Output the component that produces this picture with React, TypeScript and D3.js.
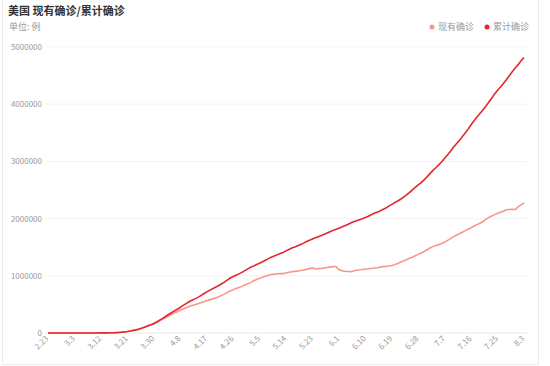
import React from "react";
import * as d3 from "d3";

// dates: 2020-02-23 .. 2020-08-03 (daily)
const startDate = "2020-02-23";
const cumulative: number[] = [
  // Feb 23-29
  15, 15, 15, 15, 16, 16, 24,
  // Mar 1-31
  30, 53, 73, 104, 174, 222, 337, 451, 519, 711, 1109, 1561, 2157, 2870, 3500, 4600, 6300, 9200, 14000, 19600, 26700, 35200, 46400, 55200, 69200, 86000, 104800, 124700, 143500, 165900, 192300,
  // Apr 1-30
  224500, 256600, 289000, 323900, 353100, 383800, 416000, 446600, 482200, 514500, 545100, 571800, 596600, 623300, 653000, 686000, 718000, 746000, 773000, 801000, 827000, 857000, 888000, 926000, 961000, 987000, 1010000, 1034000, 1060000, 1090000,
  // May 1-31
  1121000, 1148000, 1173000, 1196000, 1220000, 1246000, 1273000, 1300000, 1326000, 1346000, 1366000, 1388000, 1409000, 1436000, 1461000, 1486000, 1505000, 1527000, 1549000, 1571000, 1599000, 1622000, 1645000, 1665000, 1684000, 1704000, 1725000, 1747000, 1771000, 1794000, 1812000,
  // Jun 1-30
  1833000, 1855000, 1876000, 1898000, 1923000, 1946000, 1963000, 1981000, 1998000, 2019000, 2042000, 2067000, 2093000, 2113000, 2134000, 2160000, 2186000, 2217000, 2248000, 2280000, 2307000, 2338000, 2375000, 2414000, 2454000, 2501000, 2546000, 2588000, 2630000, 2678000,
  // Jul 1-31
  2730000, 2786000, 2843000, 2889000, 2939000, 2995000, 3056000, 3118000, 3178000, 3247000, 3307000, 3366000, 3429000, 3496000, 3564000, 3640000, 3711000, 3775000, 3836000, 3899000, 3963000, 4035000, 4105000, 4180000, 4245000, 4300000, 4362000, 4428000, 4497000, 4566000, 4634000,
  // Aug 1-3
  4692000, 4760000, 4815000,
];
const current: number[] = [
  // Feb 23-29
  10, 10, 10, 10, 11, 11, 17,
  // Mar 1-31
  23, 45, 63, 92, 158, 200, 310, 420, 480, 660, 1050, 1490, 2080, 2780, 3400, 4470, 6150, 9000, 13700, 19200, 26100, 34300, 45100, 53500, 67100, 83300, 101400, 120400, 137800, 158700, 183000,
  // Apr 1-30
  212000, 240000, 268000, 298000, 322000, 347000, 373000, 396000, 420000, 441000, 462000, 479000, 494000, 510000, 527000, 546000, 563000, 579000, 596000, 614000, 631000, 655000, 680000, 708000, 736000, 758000, 776000, 795000, 815000, 838000,
  // May 1-31
  862000, 885000, 912000, 935000, 955000, 975000, 992000, 1008000, 1022000, 1030000, 1035000, 1040000, 1038000, 1050000, 1062000, 1072000, 1078000, 1085000, 1093000, 1100000, 1112000, 1125000, 1138000, 1120000, 1125000, 1130000, 1137000, 1145000, 1152000, 1160000, 1163000,
  // Jun 1-30
  1110000, 1090000, 1080000, 1075000, 1070000, 1085000, 1098000, 1105000, 1110000, 1118000, 1122000, 1128000, 1135000, 1140000, 1150000, 1160000, 1165000, 1172000, 1180000, 1195000, 1215000, 1240000, 1258000, 1280000, 1305000, 1325000, 1350000, 1375000, 1400000, 1425000,
  // Jul 1-31
  1455000, 1485000, 1510000, 1530000, 1545000, 1565000, 1590000, 1620000, 1650000, 1685000, 1710000, 1735000, 1760000, 1790000, 1815000, 1840000, 1870000, 1895000, 1920000, 1950000, 1985000, 2020000, 2045000, 2070000, 2095000, 2110000, 2130000, 2155000, 2160000, 2162000, 2160000,
  // Aug 1-3
  2205000, 2240000, 2275000,
];
const xTickLabels: string[] = [
  "2.23", "3.3", "3.12", "3.21", "3.30", "4.8", "4.17", "4.26", "5.5", "5.14",
  "5.23", "6.1", "6.10", "6.19", "6.28", "7.7", "7.16", "7.25", "8.3",
];
const yTicks: number[] = [0, 1000000, 2000000, 3000000, 4000000, 5000000];
const seriesNames: string[] = ["现有确诊", "累计确诊"];

const W = 550;
const H = 366;
const FONT = "'Noto Sans CJK SC', 'Noto Sans', sans-serif";

export default function App() {
  const t0 = new Date(startDate + "T00:00:00");
  const dates = cumulative.map((_, i) => d3.timeDay.offset(t0, i));
  const x = d3
    .scaleTime()
    .domain([t0, d3.timeDay.offset(t0, 162)])
    .range([48, 524]);
  const y = d3.scaleLinear().domain([0, 5000000]).range([333, 47]);
  const line = d3
    .line<number>()
    .x((_, i) => x(dates[i]))
    .y((d) => y(d))
    .curve(d3.curveLinear);

  const tickDates = xTickLabels.map((_, i) => d3.timeDay.offset(t0, i * 9));
  const colors = ["#f7968b", "#e5262f"];

  return (
    <svg
      width={W}
      height={H}
      style={{ position: "absolute", left: 0, top: 0, display: "block" }}
      fontFamily={FONT}
    >
      <rect x={0} y={0} width={W} height={H} fill="#fff" />
      <rect x={2.5} y={-1} width={536} height={365.5} fill="none" stroke="#ececec" />
      <text x={8} y={15} fontSize={11} fontWeight="bold" fill="#333">
        美国 现有确诊/累计确诊
      </text>
      <text x={9} y={30} fontSize={9} fill="#999">
        单位: 例
      </text>
      {/* legend */}
      {seriesNames.map((n, i) => (
        <g key={n} transform={`translate(${432 + i * 55},27)`}>
          <circle cx={0} cy={0} r={2.5} fill={colors[i]} />
          <text x={6} y={3.2} fontSize={9} fill="#999">
            {n}
          </text>
        </g>
      ))}
      {/* grid */}
      {yTicks.map((t) => (
        <g key={t}>
          <line
            x1={46}
            x2={527}
            y1={y(t)}
            y2={y(t)}
            stroke={t === 0 ? "#e8e8e8" : "#f3f3f3"}
          />
          <text
            x={42}
            y={y(t) + 3}
            fontSize={8}
            textAnchor="end"
            fill="#999"
          >
            {t}
          </text>
        </g>
      ))}
      {/* x labels */}
      {tickDates.map((d, i) => (
        <text
          key={i}
          transform={`translate(${x(d) + 1},${339}) rotate(-45)`}
          fontSize={8}
          textAnchor="end"
          fill="#999"
        >
          {xTickLabels[i]}
        </text>
      ))}
      <path d={line(current) || ""} fill="none" stroke={colors[0]} strokeWidth={1.6} />
      <path d={line(cumulative) || ""} fill="none" stroke={colors[1]} strokeWidth={1.6} />
    </svg>
  );
}
